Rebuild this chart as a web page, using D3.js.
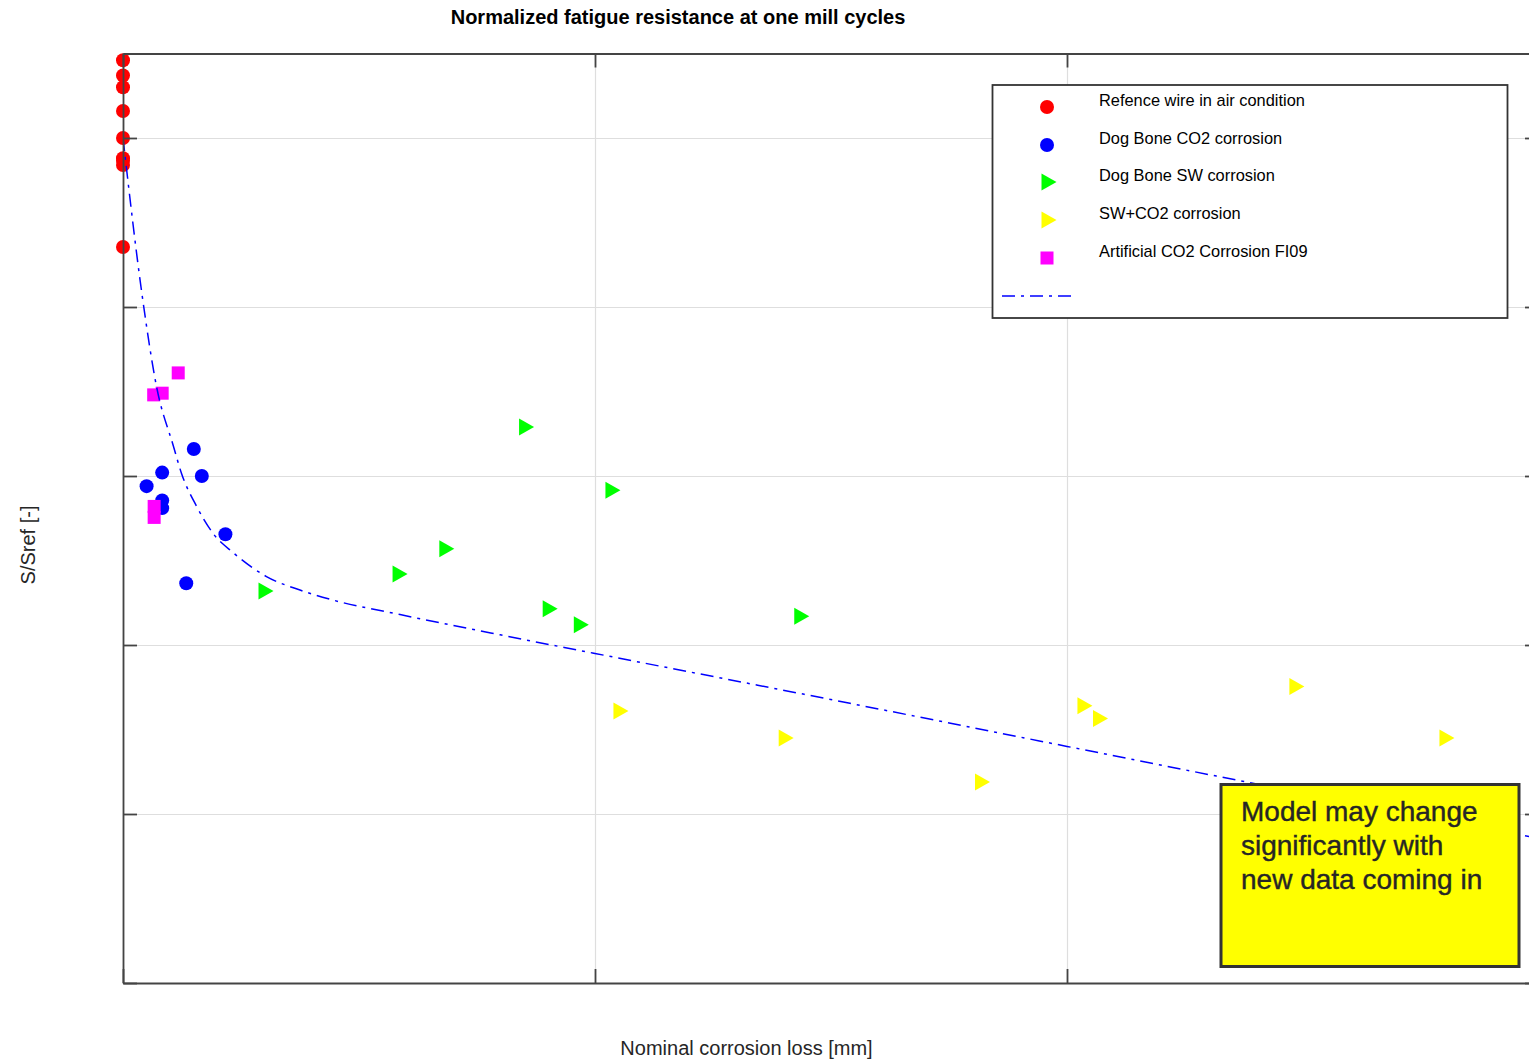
<!DOCTYPE html>
<html>
<head>
<meta charset="utf-8">
<script src="https://cdn.jsdelivr.net/npm/d3@7"></script>
<style>
  body { margin: 0; background: #fff; }
  svg { display: block; font-family: "Liberation Sans", Arial, Helvetica, sans-serif; }
</style>
</head>
<body>
<svg id="chart" width="1529" height="1061"></svg>
<script>
// ---- data ----
const xTicks = [0, 1, 2, 3];
const yTicks = [0, 0.2, 0.4, 0.6, 0.8, 1.0];

const airX = [0, 0, 0, 0, 0, 0, 0, 0, 0];
const airY = [1.092, 1.074, 1.060, 1.032, 1.000, 0.976, 0.973, 0.968, 0.871];

const co2X = [0.050, 0.083, 0.150, 0.167, 0.083, 0.083, 0.217, 0.134];
const co2Y = [0.588, 0.604, 0.632, 0.600, 0.571, 0.562, 0.531, 0.473];

const swX = [0.855, 1.038, 0.686, 0.587, 0.303, 0.905, 0.971, 1.438];
const swY = [0.658, 0.583, 0.514, 0.484, 0.464, 0.443, 0.424, 0.434];

const swCo2X = [1.055, 1.405, 1.821, 2.038, 2.071, 2.487, 2.805];
const swCo2Y = [0.322, 0.290, 0.238, 0.328, 0.313, 0.351, 0.290];

const fi09X = [0.117, 0.065, 0.083, 0.066, 0.066];
const fi09Y = [0.722, 0.696, 0.698, 0.564, 0.551];

const fitX = [0, 0.042, 0.071, 0.107, 0.124, 0.156, 0.191, 0.234, 0.304, 0.375, 0.446, 0.587, 0.799, 1.0, 1.540, 2.000, 2.388, 3.0];
const fitY = [1.0, 0.808, 0.706, 0.635, 0.603, 0.564, 0.532, 0.509, 0.481, 0.465, 0.453, 0.436, 0.412, 0.390, 0.331, 0.280, 0.237, 0.171];

const legendLabels = [
  "Refence wire in air condition",
  "Dog Bone CO2 corrosion",
  "Dog Bone SW corrosion",
  "SW+CO2 corrosion",
  "Artificial CO2 Corrosion FI09"
];
const noteLines = ["Model may change", "significantly with", "new data coming in"];

// ---- layout ----
const svg = d3.select("#chart");
const plotL = 123, plotR = 1539, plotT = 53.5, plotB = 983;
const x = d3.scaleLinear().domain([0, 3]).range([plotL, plotR]);
const y = d3.scaleLinear().domain([0, 1.1]).range([plotB, plotT]);
const axisColor = "#444";
const tickLen = 14;

// grid lines
const gx = svg.append("g").attr("transform", `translate(0,${plotB})`)
  .call(d3.axisBottom(x).tickValues(xTicks).tickSize(-(plotB - plotT)).tickSizeOuter(0).tickFormat(""));
gx.select(".domain").remove();
gx.selectAll("line").attr("stroke", "#dedede").attr("stroke-width", 1.2);

const gy = svg.append("g").attr("transform", `translate(${plotL},0)`)
  .call(d3.axisLeft(y).tickValues(yTicks).tickSize(-(plotR - plotL)).tickSizeOuter(0).tickFormat(""));
gy.select(".domain").remove();
gy.selectAll("line").attr("stroke", "#dedede").attr("stroke-width", 1.2);

// plot clip
svg.append("clipPath").attr("id", "plotClip")
  .append("rect").attr("x", plotL).attr("y", plotT - 10).attr("width", plotR - plotL + 10).attr("height", plotB - plotT + 20);

const plot = svg.append("g");

const tri = "M-7.5,-8.5L7.5,0L-7.5,8.5Z";

function circles(xs, ys, color) {
  plot.append("g").selectAll("circle").data(xs.map((v, i) => [v, ys[i]])).join("circle")
    .attr("cx", d => x(d[0])).attr("cy", d => y(d[1])).attr("r", 7).attr("fill", color);
}
function triangles(xs, ys, color) {
  plot.append("g").selectAll("path").data(xs.map((v, i) => [v, ys[i]])).join("path")
    .attr("d", tri).attr("transform", d => `translate(${x(d[0])},${y(d[1])})`).attr("fill", color);
}
function squares(xs, ys, color) {
  plot.append("g").selectAll("rect").data(xs.map((v, i) => [v, ys[i]])).join("rect")
    .attr("x", d => x(d[0]) - 6.5).attr("y", d => y(d[1]) - 6.5).attr("width", 13).attr("height", 13).attr("fill", color);
}

circles(airX, airY, "#ff0000");
circles(co2X, co2Y, "#0000ff");
triangles(swX, swY, "#00ff00");
triangles(swCo2X, swCo2Y, "#ffff00");
squares(fi09X, fi09Y, "#ff00ff");

// fitted model curve
const dashDot = "13,6,3,6";
const line = d3.line().x(d => x(d[0])).y(d => y(d[1])).curve(d3.curveMonotoneX);
svg.append("path")
  .datum(fitX.map((v, i) => [v, fitY[i]]))
  .attr("clip-path", "url(#plotClip)")
  .attr("d", line)
  .attr("fill", "none").attr("stroke", "#0000ff").attr("stroke-width", 1.5)
  .attr("stroke-dasharray", dashDot);

// axes box with inward ticks on all sides
function styleAxis(g) {
  g.select(".domain").attr("stroke", axisColor).attr("stroke-width", 1.8);
  g.selectAll(".tick line").attr("stroke", axisColor).attr("stroke-width", 1.8);
}
svg.append("g").attr("transform", `translate(0,${plotB})`)
  .call(d3.axisBottom(x).tickValues(xTicks).tickSize(-tickLen).tickSizeOuter(0).tickFormat("")).call(styleAxis);
svg.append("g").attr("transform", `translate(0,${plotT})`)
  .call(d3.axisTop(x).tickValues(xTicks).tickSize(-tickLen).tickSizeOuter(0).tickFormat("")).call(styleAxis);
svg.append("g").attr("transform", `translate(${plotL},0)`)
  .call(d3.axisLeft(y).tickValues(yTicks).tickSize(-tickLen).tickSizeOuter(0).tickFormat("")).call(styleAxis);
svg.append("g").attr("transform", `translate(${plotR},0)`)
  .call(d3.axisRight(y).tickValues(yTicks).tickSize(-tickLen).tickSizeOuter(0).tickFormat("")).call(styleAxis);

// title and axis labels
svg.append("text").attr("x", 678).attr("y", 24).attr("text-anchor", "middle")
  .attr("font-size", 20).attr("font-weight", "bold").attr("fill", "#000")
  .text("Normalized fatigue resistance at one mill cycles");
svg.append("text").attr("x", 746.5).attr("y", 1055).attr("text-anchor", "middle")
  .attr("font-size", 20).attr("fill", "#262626")
  .text("Nominal corrosion loss [mm]");
svg.append("text").attr("transform", "translate(35,545) rotate(-90)").attr("text-anchor", "middle")
  .attr("font-size", 20).attr("fill", "#262626")
  .text("S/Sref [-]");

// legend
const lg = svg.append("g");
lg.append("rect").attr("x", 992.5).attr("y", 85).attr("width", 515).attr("height", 233)
  .attr("fill", "#fff").attr("stroke", "#333").attr("stroke-width", 1.8);
const rowY = [107, 145, 182, 220, 258];
const mx = 1047;
lg.append("circle").attr("cx", mx).attr("cy", rowY[0]).attr("r", 7).attr("fill", "#ff0000");
lg.append("circle").attr("cx", mx).attr("cy", rowY[1]).attr("r", 7).attr("fill", "#0000ff");
lg.append("path").attr("d", tri).attr("transform", `translate(${mx + 2},${rowY[2]})`).attr("fill", "#00ff00");
lg.append("path").attr("d", tri).attr("transform", `translate(${mx + 2},${rowY[3]})`).attr("fill", "#ffff00");
lg.append("rect").attr("x", mx - 6.5).attr("y", rowY[4] - 6.5).attr("width", 13).attr("height", 13).attr("fill", "#ff00ff");
lg.append("line").attr("x1", 1002).attr("x2", 1075).attr("y1", 296).attr("y2", 296)
  .attr("stroke", "#0000ff").attr("stroke-width", 1.5).attr("stroke-dasharray", dashDot);
lg.selectAll("text.lbl").data(legendLabels).join("text").attr("class", "lbl")
  .attr("x", 1099).attr("y", (d, i) => rowY[i] - 1)
  .attr("font-size", 16.4).attr("fill", "#000").text(d => d);

// annotation box
const note = svg.append("g");
note.append("rect").attr("x", 1221).attr("y", 784.5).attr("width", 298).attr("height", 182)
  .attr("fill", "#ffff00").attr("stroke", "#333").attr("stroke-width", 3);
note.selectAll("text").data(noteLines).join("text")
  .attr("x", 1241).attr("y", (d, i) => 821 + i * 33.8)
  .attr("font-size", 28).attr("fill", "#262626")
  .attr("stroke", "#262626").attr("stroke-width", 0.4)
  .text(d => d);
</script>
</body>
</html>
